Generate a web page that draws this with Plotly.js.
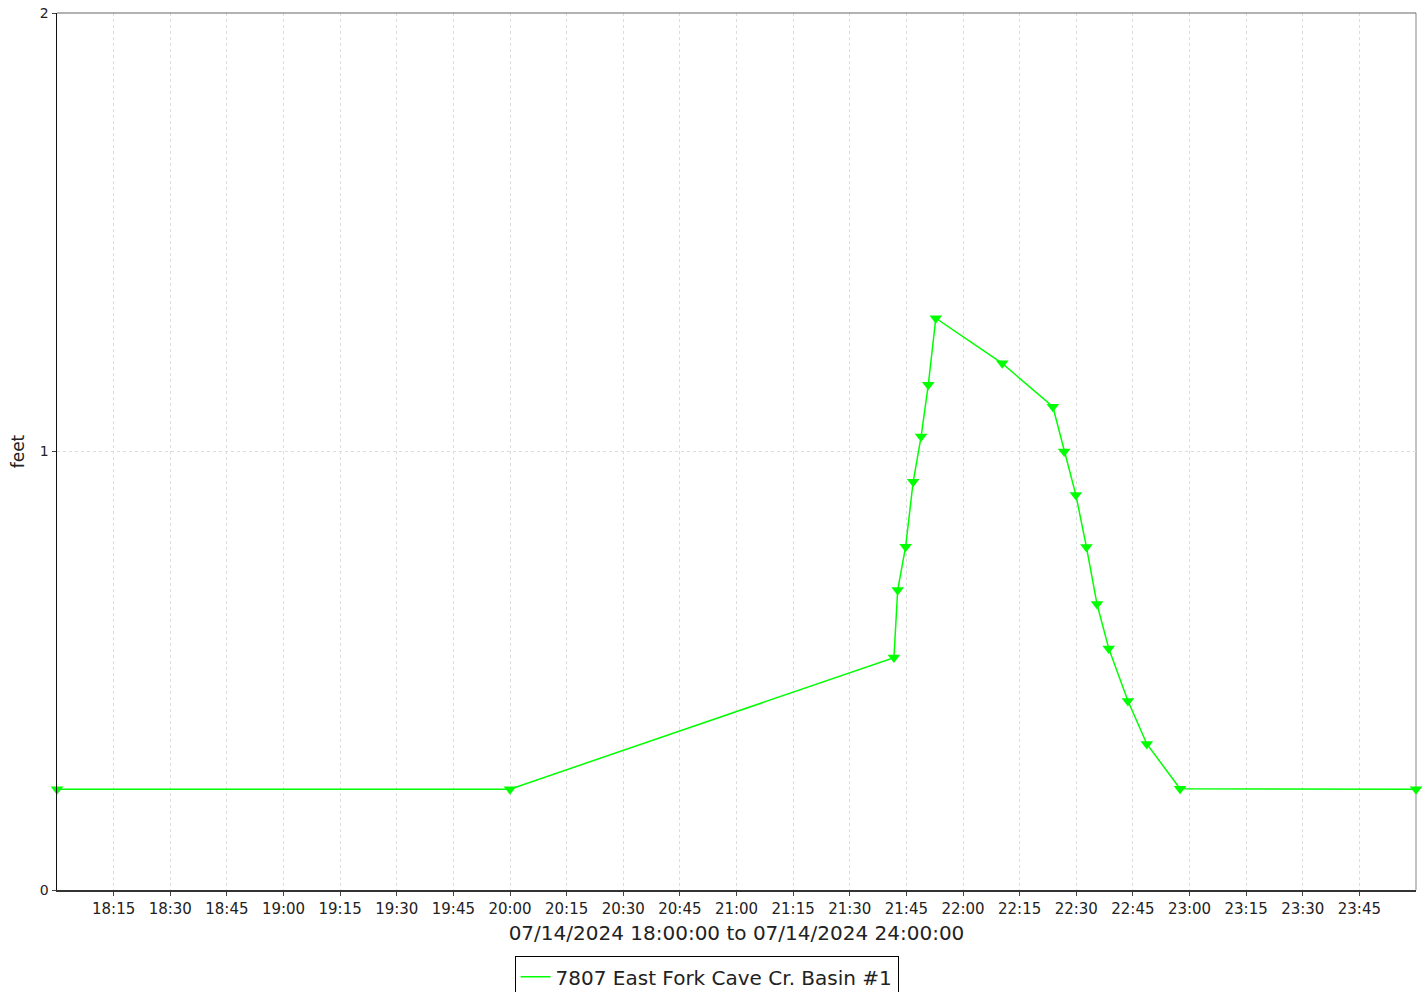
<!DOCTYPE html>
<html>
<head>
<meta charset="utf-8">
<script src="https://cdn.plot.ly/plotly-3.0.1.min.js"></script>
<style>html,body{margin:0;padding:0;background:#fff;}#chart{width:1424px;height:992px;}</style>
</head>
<body>
<div id="chart"></div>
<script>
const seriesName = "7807 East Fork Cave Cr. Basin #1";
const times = [
  "2024-07-14 18:00:00", "2024-07-14 20:00:00", "2024-07-14 21:41:42", "2024-07-14 21:42:42",
  "2024-07-14 21:44:48", "2024-07-14 21:46:48", "2024-07-14 21:48:54", "2024-07-14 21:50:48",
  "2024-07-14 21:52:48", "2024-07-14 22:10:24", "2024-07-14 22:23:48", "2024-07-14 22:26:48",
  "2024-07-14 22:29:54", "2024-07-14 22:32:42", "2024-07-14 22:35:30", "2024-07-14 22:38:36",
  "2024-07-14 22:43:42", "2024-07-14 22:48:42", "2024-07-14 22:57:30", "2024-07-15 00:00:00"
];
const feet = [
  0.230, 0.230, 0.530, 0.684,
  0.783, 0.931, 1.034, 1.152,
  1.304, 1.201, 1.102, 1.000,
  0.901, 0.782, 0.652, 0.551,
  0.431, 0.333, 0.231, 0.230
];
const tickTimes = [
  "2024-07-14 18:15", "2024-07-14 18:30", "2024-07-14 18:45", "2024-07-14 19:00",
  "2024-07-14 19:15", "2024-07-14 19:30", "2024-07-14 19:45", "2024-07-14 20:00",
  "2024-07-14 20:15", "2024-07-14 20:30", "2024-07-14 20:45", "2024-07-14 21:00",
  "2024-07-14 21:15", "2024-07-14 21:30", "2024-07-14 21:45", "2024-07-14 22:00",
  "2024-07-14 22:15", "2024-07-14 22:30", "2024-07-14 22:45", "2024-07-14 23:00",
  "2024-07-14 23:15", "2024-07-14 23:30", "2024-07-14 23:45"
];
const tickLabels = [
  "18:15", "18:30", "18:45", "19:00", "19:15", "19:30", "19:45", "20:00",
  "20:15", "20:30", "20:45", "21:00", "21:15", "21:30", "21:45", "22:00",
  "22:15", "22:30", "22:45", "23:00", "23:15", "23:30", "23:45"
];
const xRange = ["2024-07-14 18:00:00", "2024-07-15 00:00:00"];
const yTicks = [0, 1, 2];
const xTitle = "07/14/2024 18:00:00 to 07/14/2024 24:00:00";
const yTitle = "feet";

const font = "DejaVu Sans, sans-serif";
const green = "#00ff00";

const trace = {
  x: times, y: feet, name: seriesName, type: "scatter", mode: "lines+markers",
  line: {color: green, width: 1.5},
  marker: {symbol: "triangle-down", size: 11, color: green},
  showlegend: false, cliponaxis: false
};
const legendEntry = {
  x: [null], y: [null], name: seriesName, type: "scatter", mode: "lines",
  line: {color: green, width: 1.5}, showlegend: true, hoverinfo: "skip"
};

const layout = {
  width: 1424, height: 992,
  margin: {l: 57, r: 8, t: 13, b: 102, autoexpand: false},
  paper_bgcolor: "#ffffff", plot_bgcolor: "#ffffff",
  font: {family: font, color: "#222"},
  showlegend: true,
  legend: {
    orientation: "h", x: 0.478, xanchor: "center", y: -0.0755, yanchor: "top",
    bordercolor: "#000", borderwidth: 1, font: {size: 20, family: font, color: "#222"},
    bgcolor: "#fff", itemwidth: 30, tracegroupgap: 0
  },
  xaxis: {
    type: "date", range: xRange, automargin: false,
    tickmode: "array", tickvals: tickTimes, ticktext: tickLabels,
    ticks: "outside", ticklen: 4, tickcolor: "#444",
    tickfont: {size: 15, family: font, color: "#222"},
    showgrid: true, gridcolor: "#dcdcdc", griddash: "3px,3px", gridwidth: 1,
    showline: true, linecolor: "#333", linewidth: 1.5, zeroline: false,
    title: {text: xTitle, font: {size: 20, family: font, color: "#222"}, standoff: 9}
  },
  yaxis: {
    range: [0, 2], tickmode: "array", tickvals: yTicks, automargin: false,
    ticks: "outside", ticklen: 4, tickcolor: "#444",
    tickfont: {size: 14, family: font, color: "#222"},
    showgrid: true, gridcolor: "#dcdcdc", griddash: "3px,3px", gridwidth: 1,
    showline: true, linecolor: "#111", linewidth: 1.5, zeroline: false,
    title: {text: yTitle, font: {size: 17, family: font, color: "#222"}, standoff: 11}
  },
  shapes: [
    {type: "line", xref: "paper", yref: "paper", x0: 0, x1: 1, y0: 1, y1: 1, line: {color: "#666", width: 1.2}, layer: "above"},
    {type: "line", xref: "paper", yref: "paper", x0: 1, x1: 1, y0: 0, y1: 1, line: {color: "#999", width: 1.2}, layer: "below"}
  ]
};

Plotly.newPlot("chart", [trace, legendEntry], layout, {displayModeBar: false, staticPlot: true});
</script>
</body>
</html>
